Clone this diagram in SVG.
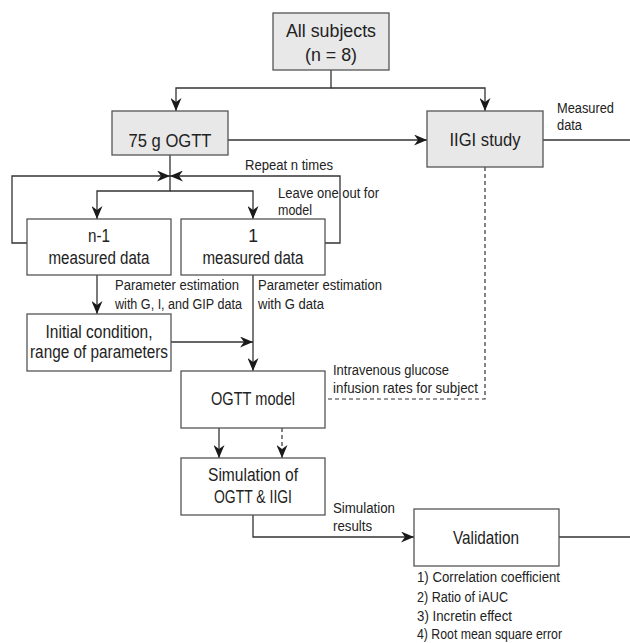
<svg xmlns="http://www.w3.org/2000/svg" width="630" height="643" viewBox="0 0 630 643">
<style>
.box{fill:#ffffff;stroke:#555;stroke-width:1.3}
.gbox{fill:#e8e8e8;stroke:#555;stroke-width:1.3}
.ln{fill:none;stroke:#333;stroke-width:1.3}
.dash{fill:none;stroke:#333;stroke-width:1.2;stroke-dasharray:4,3}
text{font-family:"Liberation Sans",Arial,sans-serif;fill:#222}
.big{font-size:18.5px;text-anchor:middle}
.mid{font-size:17.5px;text-anchor:middle}
.sm{font-size:14px}
</style>
<defs>
<marker id="ah" markerUnits="userSpaceOnUse" markerWidth="13" markerHeight="11" viewBox="0 0 13 11" refX="13" refY="5.5" orient="auto">
<path d="M0,0 L13,5.5 L0,11 L4,5.5 z" fill="#1a1a1a"/>
</marker>
</defs>
<g id="connectors">
<path class="ln" d="M331,70 V88 H176 V111" marker-end="url(#ah)"/>
<path class="ln" d="M331,88 H485 V111" marker-end="url(#ah)"/>
<path class="ln" d="M228,140 H427" marker-end="url(#ah)"/>
<path class="ln" d="M543,140 H630"/>
<path class="ln" d="M170,155 V191 H97 V219" marker-end="url(#ah)"/>
<path class="ln" d="M170,191 H253 V219" marker-end="url(#ah)"/>
<path class="ln" d="M27,243 H12 V176 H170" marker-end="url(#ah)"/>
<path class="ln" d="M325,243 H340 V176 H170" marker-end="url(#ah)"/>
<path class="ln" d="M97,275 V314" marker-end="url(#ah)"/>
<path class="ln" d="M253,275 V371" marker-end="url(#ah)"/>
<path class="ln" d="M171,342 H253" marker-end="url(#ah)"/>
<path class="dash" d="M485,167 V399 H325"/>
<path class="ln" d="M219,428 V458" marker-end="url(#ah)"/>
<path class="dash" d="M282,428 V458" marker-end="url(#ah)"/>
<path class="ln" d="M253,515 V537 H414" marker-end="url(#ah)"/>
<path class="ln" d="M559,537 H630"/>
</g>
<g id="all-subjects">
<rect class="gbox" x="273" y="13" width="116" height="57"/>
<text class="big" x="331" y="37" textLength="90" lengthAdjust="spacingAndGlyphs">All subjects</text>
<text class="big" x="331" y="61" textLength="52" lengthAdjust="spacingAndGlyphs">(n = 8)</text>
</g>
<g id="ogtt">
<rect class="gbox" x="112" y="111" width="116" height="44"/>
<text class="big" x="170" y="147" textLength="83" lengthAdjust="spacingAndGlyphs">75 g OGTT</text>
</g>
<g id="iigi">
<rect class="gbox" x="427" y="111" width="116" height="56"/>
<text class="big" x="485" y="146" textLength="71" lengthAdjust="spacingAndGlyphs">IIGI study</text>
</g>
<g id="labels">
<text class="sm" x="557" y="113" textLength="57" lengthAdjust="spacingAndGlyphs">Measured</text>
<text class="sm" x="557" y="130" textLength="25" lengthAdjust="spacingAndGlyphs">data</text>
<text class="sm" x="245" y="170" textLength="88" lengthAdjust="spacingAndGlyphs">Repeat n times</text>
<text class="sm" x="278" y="198" textLength="101" lengthAdjust="spacingAndGlyphs">Leave one out for</text>
<text class="sm" x="278" y="215" textLength="34" lengthAdjust="spacingAndGlyphs">model</text>
<text class="sm" x="115" y="290" textLength="124" lengthAdjust="spacingAndGlyphs">Parameter estimation</text>
<text class="sm" x="115" y="309" textLength="127" lengthAdjust="spacingAndGlyphs">with G, I, and GIP data</text>
<text class="sm" x="258" y="290" textLength="124" lengthAdjust="spacingAndGlyphs">Parameter estimation</text>
<text class="sm" x="258" y="309" textLength="66" lengthAdjust="spacingAndGlyphs">with G data</text>
<text class="sm" x="333" y="375" textLength="116" lengthAdjust="spacingAndGlyphs">Intravenous glucose</text>
<text class="sm" x="333" y="393" textLength="145" lengthAdjust="spacingAndGlyphs">infusion rates for subject</text>
<text class="sm" x="333" y="513" textLength="62" lengthAdjust="spacingAndGlyphs">Simulation</text>
<text class="sm" x="333" y="531" textLength="39" lengthAdjust="spacingAndGlyphs">results</text>
<text class="sm" x="417" y="582" textLength="143" lengthAdjust="spacingAndGlyphs">1) Correlation coefficient</text>
<text class="sm" x="417" y="602" textLength="91" lengthAdjust="spacingAndGlyphs">2) Ratio of iAUC</text>
<text class="sm" x="417" y="621" textLength="95" lengthAdjust="spacingAndGlyphs">3) Incretin effect</text>
<text class="sm" x="417" y="639" textLength="145" lengthAdjust="spacingAndGlyphs">4) Root mean square error</text>
</g>
<g id="n1-data">
<rect class="box" x="27" y="219" width="144" height="56"/>
<text class="mid" x="99" y="242" textLength="22" lengthAdjust="spacingAndGlyphs">n-1</text>
<text class="mid" x="99" y="264" textLength="101" lengthAdjust="spacingAndGlyphs">measured data</text>
</g>
<g id="one-data">
<rect class="box" x="181" y="219" width="144" height="56"/>
<text class="mid" x="253" y="242">1</text>
<text class="mid" x="253" y="264" textLength="101" lengthAdjust="spacingAndGlyphs">measured data</text>
</g>
<g id="initial">
<rect class="box" x="27" y="314" width="144" height="57"/>
<text class="mid" x="99" y="338" textLength="107" lengthAdjust="spacingAndGlyphs">Initial condition,</text>
<text class="mid" x="99" y="358" textLength="138" lengthAdjust="spacingAndGlyphs">range of parameters</text>
</g>
<g id="ogtt-model">
<rect class="box" x="181" y="371" width="144" height="57"/>
<text class="mid" x="253" y="405" textLength="84" lengthAdjust="spacingAndGlyphs">OGTT model</text>
</g>
<g id="simulation">
<rect class="box" x="181" y="458" width="144" height="57"/>
<text class="mid" x="253" y="481" textLength="90" lengthAdjust="spacingAndGlyphs">Simulation of</text>
<text class="mid" x="253" y="503" textLength="78" lengthAdjust="spacingAndGlyphs">OGTT &amp; IIGI</text>
</g>
<g id="validation">
<rect class="box" x="414" y="509" width="145" height="57"/>
<text class="big" x="486" y="544" textLength="66" lengthAdjust="spacingAndGlyphs">Validation</text>
</g>
</svg>
